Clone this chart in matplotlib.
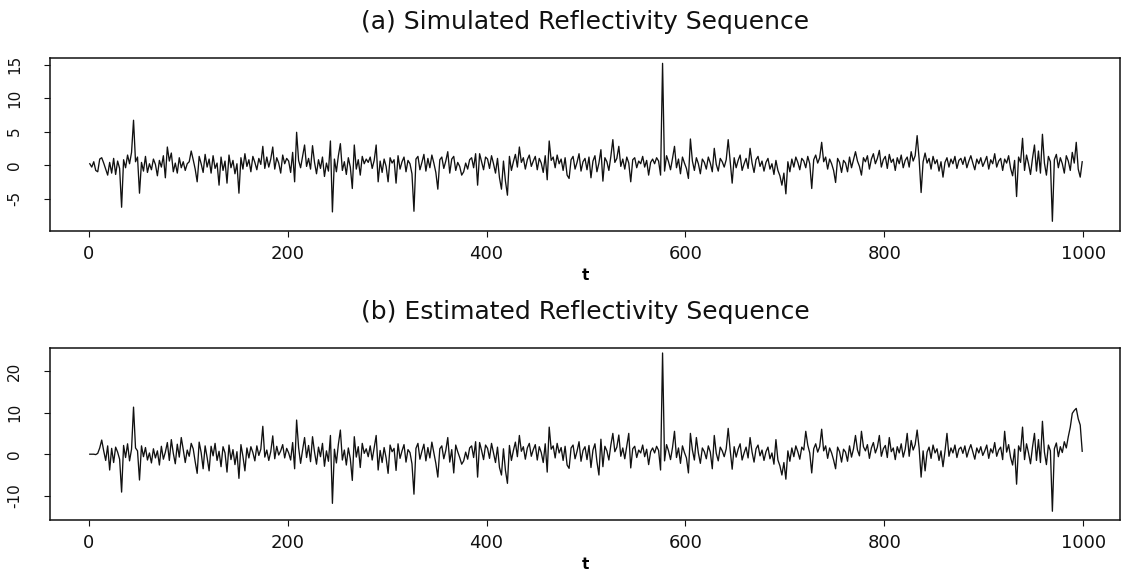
import numpy as np
import matplotlib
matplotlib.use("Agg")
import matplotlib.pyplot as plt

# time index (every other sample of t = 1..999)
t = np.arange(1, 1000, 2)

# (a) simulated reflectivity values
sim = [
    0.2, -0.3, 0.5, -0.8, -1.0, 0.9, 1.1, 0.3, -0.6, -1.5,
    0.4, -1.2, 1.0, -1.4, 0.6, -0.5, -6.3, 0.8, -0.4, 1.5,
    0.2, 1.9, 6.7, 0.5, 1.2, -4.2, 0.4, -0.9, 1.3, -1.1,
    0.2, -0.7, 0.9, 0.1, -1.6, 0.7, -0.3, 1.4, -1.9, 2.7,
    0.6, 1.8, -1.0, 0.3, -1.2, 1.1, -0.4, 0.5, -0.8, 0.2,
    0.5, 2.1, 0.8, -0.6, -2.5, 1.3, 0.2, -1.1, 1.6, -0.3,
    0.9, -1.2, 1.4, -0.5, 0.3, -3.0, 1.2, -0.8, 0.6, -2.7,
    1.5, -0.4, 0.7, -1.3, 0.2, -4.2, 1.1, -0.6, 1.7, -0.2,
    0.8, -1.0, 1.3, 0.4, -0.7, 1.0, 0.1, 2.8, -0.5, 1.2,
    -0.3, 0.9, 2.7, -0.6, 1.1, 0.3, -1.2, 1.5, 0.2, 1.0,
    0.6, -1.1, 1.9, -2.5, 4.9, 0.7, -0.4, 1.3, 3.0, -0.2,
    1.0, -0.6, 2.9, 0.4, -1.3, 0.8, -0.5, 1.2, -1.7, 0.3,
    -0.9, 3.6, -7.0, 0.9, -1.0, 1.4, 3.2, -0.8, 0.5, -1.4,
    1.1, -0.3, -3.5, 3.0, -0.6, 0.8, -1.5, 1.3, 0.2, 0.9,
    0.4, 1.2, -0.5, 0.7, 3.0, -2.5, 0.6, -1.1, 0.9, -0.2,
    -2.5, 1.1, 0.3, 0.8, -2.7, 1.4, -0.6, 0.5, 1.2, -1.0,
    0.7, 0.2, -1.3, -6.9, 0.9, 1.3, -0.7, 0.4, 1.6, -0.9,
    1.0, -0.4, 1.5, 0.3, -1.1, -3.6, 0.8, 1.2, -0.5, 0.6,
    2.0, -1.2, 0.9, 1.3, -0.8, 0.4, -0.2, -1.5, -1.0, 0.3,
    -0.6, 0.8, 1.1, -0.4, 1.7, -3.0, 1.7, 0.5, -0.7, 1.2,
    0.9, -0.5, 1.4, 0.2, -1.2, 1.0, -1.9, -3.6, 0.6, -2.4,
    -4.5, 1.3, -0.8, 0.5, 1.6, -0.3, 2.7, 0.4, 1.1, -0.6,
    0.8, 1.5, -0.2, 0.6, 1.3, -0.7, 1.0, 0.3, -1.1, 1.4,
    -2.2, 3.6, 0.7, 1.2, -0.4, 1.5, 0.2, 0.9, -0.8, 1.1,
    -1.5, -2.0, 0.8, 1.3, -0.6, 0.4, 1.7, -0.9, 0.5, 1.0,
    -0.7, 1.2, -1.9, 0.6, 1.4, -1.0, 0.3, 2.3, -2.4, 1.1,
    0.5, -0.8, 1.3, 3.8, 0.4, 1.0, 2.8, -0.2, 0.9, -0.6,
    1.2, 0.3, -2.5, 0.8, 1.1, -0.4, 0.6, 0.2, 1.3, -0.3,
    0.7, -1.5, 0.4, 0.9, 0.2, 1.1, 0.6, -1.5, 15.2, -0.9,
    1.4, 0.5, -0.7, 1.0, 2.8, -0.4, 0.9, -1.3, 1.2, 0.3,
    -0.5, -2.0, 3.9, 0.6, -0.8, 1.1, 0.2, -1.3, 0.9, 0.4,
    -0.6, 1.2, 0.3, -1.0, 2.5, 0.1, -0.9, 1.0, 0.5, -0.3,
    0.8, 3.8, 0.6, -2.7, 1.1, -0.4, 0.7, 1.5, -0.8, 0.2,
    1.0, -0.5, 2.5, 0.3, -1.1, 0.8, 1.3, -0.2, 0.6, -0.9,
    0.4, 1.0, -0.6, 0.2, -1.4, 0.7, -0.8, -1.6, -3.0, -1.2,
    -4.3, 0.5, -1.0, 0.9, -0.3, 1.2, 0.4, -0.7, 1.0, 0.6,
    -0.4, 1.3, 0.2, -3.5, 0.8, 1.5, 0.3, 1.1, 3.4, 0.5,
    1.2, -0.6, 0.9, 0.2, -0.8, -2.6, 1.0, 0.4, -1.1, 0.7,
    0.3, -1.0, 1.2, -0.4, 0.8, 2.0, 0.6, -0.2, -1.5, 1.1,
    0.5, 1.4, -0.6, 0.9, 1.7, 0.2, 1.0, 2.2, -0.3, 0.8,
    1.3, -0.5, 1.6, 0.4, 0.9, -0.8, 1.1, 0.2, 1.5, -0.4,
    0.7, 1.2, -0.3, 2.0, 0.6, 1.4, 4.4, 0.9, -4.1, 0.5,
    1.8, 0.3, 1.0, -0.6, 1.3, 0.2, 0.8, -0.9, 0.5, -1.8,
    0.4, 1.1, -0.3, 0.9, 0.2, 1.3, -0.5, 0.7, 1.0, 0.1,
    1.2, -0.4, 0.6, 1.4, 0.3, -0.7, 0.9, 0.2, 1.1, -0.2,
    0.5, 1.3, -0.6, 0.8, 0.2, 1.7, -0.3, 0.6, 1.0, -0.8,
    0.9, 0.3, 1.4, -0.5, -1.6, 0.7, -4.7, 1.2, 0.4, 4.0,
    -0.8, 1.5, 0.2, -1.4, 1.0, 3.0, -0.9, 2.1, -1.2, 4.6,
    0.3, -1.5, 1.3, 0.5, -8.4, 0.8, 1.6, -0.4, 1.1, 0.2,
    -1.2, 1.4, 0.6, -0.8, 1.9, 0.3, 3.4, -0.6, -1.8, 0.5,
]

# (b) estimated reflectivity values
est = [
    0.0, 0.0, 0.0, -0.1, 0.2, 1.5, 3.4, 0.8, -1.5, 2.0,
    -3.8, 1.4, -2.0, 1.7, 0.5, -1.2, -9.1, 2.1, -0.8, 2.5,
    -1.6, 1.2, 11.3, 1.5, 0.8, -6.2, 2.0, -0.6, 1.6, -1.4,
    0.3, -2.1, 1.3, -0.9, 0.8, -2.6, 1.9, -1.2, 0.5, 2.8,
    -1.5, 3.5, 0.2, -2.3, 2.4, -0.7, 4.0, 1.1, -2.0, 1.0,
    -0.5, 2.6, 1.3, -1.8, -4.6, 2.9, 0.4, -3.5, 2.0, -0.8,
    -4.0, 1.9, -0.4, 2.6, -1.5, 0.7, -3.0, 1.8, 0.3, -4.3,
    2.2, -1.3, 1.1, -2.5, 0.6, -5.8, 2.3, -0.5, -4.0, 1.5,
    -0.9, 1.8, 0.4, -1.6, 2.0, -0.3, 1.2, 6.7, -0.7, 1.0,
    -1.5, 0.6, 4.4, -1.1, 1.9, -0.2, 0.8, 2.3, -0.9, 1.4,
    0.3, -1.4, 2.8, -3.5, 8.2, 1.6, -2.2, 1.0, 4.0, -0.8,
    2.1, -1.8, 4.2, 0.5, -2.4, 1.7, -0.6, 2.6, -2.9, 0.8,
    -1.7, 4.5, -11.8, 1.2, -2.1, 2.4, 5.8, -1.4, 1.0, -2.6,
    1.5, -1.1, -6.3, 4.2, -0.7, 1.8, -3.2, 2.6, 0.2, 1.3,
    -0.6, 2.0, -1.4, 1.5, 4.5, -3.8, 0.9, -2.0, 1.6, -0.9,
    -4.6, 2.2, 0.6, 1.4, -3.9, 2.5, -1.0, 0.8, 2.3, -1.9,
    1.1, 0.4, -2.3, -9.6, 1.4, 2.6, -1.2, 0.7, 2.4, -1.6,
    1.6, -0.9, 2.9, 0.3, -2.2, -5.5, 1.3, 2.0, -1.1, 0.9,
    4.0, -1.9, 1.1, -4.5, 2.2, 0.6, -0.8, -2.4, -1.6, 0.5,
    -1.2, 1.5, 2.0, -0.8, 3.0, -5.5, 2.8, 0.9, -1.3, 2.2,
    1.4, -1.0, 2.6, 0.3, -2.0, 1.7, -3.2, -5.0, 1.3, -3.9,
    -7.0, 2.1, -1.5, 0.9, 2.9, -0.6, 4.5, 0.7, 1.8, -1.2,
    1.5, 2.6, -0.5, 1.1, 2.3, -1.4, 1.8, 0.4, -2.0, 2.5,
    -4.3, 6.5, 1.2, 2.0, -0.9, 2.6, 0.3, 1.6, -1.5, 1.9,
    -2.6, -3.4, 1.5, 2.2, -1.1, 0.7, 3.0, -1.7, 0.9, 1.8,
    -1.3, 2.1, -3.2, 1.0, 2.5, -1.8, -5.0, 3.6, -3.0, 1.9,
    0.8, -1.4, 2.2, 5.0, 0.6, 1.7, 4.6, -0.5, 1.5, -1.1,
    2.0, 5.0, -3.3, 1.3, 1.9, -0.8, 1.0, 0.3, 2.2, -0.6,
    1.2, -2.5, 0.6, 1.5, 0.3, 1.9, 0.9, -3.8, 24.3, -1.6,
    2.3, 0.8, -1.3, 1.6, 5.5, -0.8, 1.5, -2.2, 2.0, 0.4,
    -0.9, -4.5, 5.0, 1.0, -1.4, 4.0, 0.3, -2.2, 1.5, 0.6,
    -1.1, 2.0, 0.5, -3.5, 4.5, 0.2, -1.6, 1.7, 0.8, -0.6,
    1.3, 6.2, 1.0, -3.6, 1.8, -0.7, 1.2, 2.5, -1.4, 0.3,
    1.7, -0.9, 4.0, 0.5, -1.9, 1.3, 2.2, -0.4, 1.0, -1.5,
    0.6, 1.7, -1.1, 0.3, -2.4, 3.5, -1.4, -2.8, -5.0, -2.0,
    -6.0, 0.8, -1.7, 1.5, -0.6, 2.0, 0.6, -1.2, 1.7, 1.0,
    5.5, 2.2, 0.3, -4.5, 1.3, 2.5, 0.5, 1.8, 6.0, 0.8,
    2.0, -1.0, 1.5, 0.3, -1.4, -3.5, 1.7, 0.6, -1.9, 1.2,
    0.5, -1.7, 2.0, -0.7, 1.3, 4.5, 1.0, -0.4, 5.5, 1.8,
    0.8, 2.3, -1.0, 1.5, 2.8, 0.3, 1.7, 4.5, -0.5, 1.3,
    2.1, -0.8, 4.0, 0.6, 1.5, -1.3, 1.8, 0.3, 2.5, -0.7,
    1.2, 5.0, -0.5, 3.3, 1.0, 2.3, 5.8, 1.5, -5.5, 0.8,
    -4.0, 0.5, 1.7, -1.0, 2.2, 0.3, 1.3, -1.5, 0.8, -3.0,
    0.7, 5.0, -0.5, 1.5, 0.3, 2.2, -0.8, 1.2, 1.7, 0.2,
    2.0, -0.7, 1.0, 2.3, 0.5, -1.2, 1.5, 0.3, 1.8, -0.3,
    0.8, 2.2, -1.0, 1.3, 0.3, 2.8, -0.5, 1.0, 1.7, -1.3,
    5.5, 0.5, 2.3, -0.8, -2.6, 1.2, -7.2, 2.0, 0.7, 6.5,
    -1.3, 2.5, 0.3, -2.3, 1.7, 5.0, -1.5, 3.5, -2.0, 7.9,
    0.5, -2.5, 2.2, 0.8, -13.7, 1.3, 2.7, -0.6, 1.8, 0.4,
    3.0, 1.5, 4.2, 6.5, 9.8, 10.5, 11.0, 8.5, 7.0, 0.7,
]

titles = ["(a) Simulated Reflectivity Sequence", "(b) Estimated Reflectivity Sequence"]
xticks = [0, 200, 400, 600, 800, 1000]
yticks_a = [-5, 0, 5, 10, 15]
yticks_b = [-10, 0, 10, 20]

W, H = 1121, 571
fig = plt.figure(figsize=(W / 100, H / 100), dpi=100)
plt.rcParams['font.family'] = ['DejaVu Sans']

def frac_box(x0, y0, x1, y1):
    return [x0 / W, 1 - y1 / H, (x1 - x0) / W, (y1 - y0) / H]

axa = fig.add_axes(frac_box(50, 58, 1120, 231))
axb = fig.add_axes(frac_box(50, 348, 1120, 520))

for ax, y, yt, ylim, title, ty in [
    (axa, sim, yticks_a, (-9.85, 16.0), titles[0], 22),
    (axb, est, yticks_b, (-15.8, 25.5), titles[1], 312),
]:
    ax.plot(t, y, color="#111111", lw=0.95)
    ax.set_xlim(-39, 1037)
    ax.set_ylim(*ylim)
    ax.set_xticks(xticks)
    ax.set_xticklabels([str(v) for v in xticks], fontsize=13)
    ax.set_yticks(yt)
    ax.set_yticklabels([str(v) for v in yt], fontsize=11, rotation=90, va="center")
    ax.tick_params(axis="x", length=4, width=0.8, pad=6, colors="#111111")
    ax.tick_params(axis="y", length=4, width=0.8, pad=16, colors="#111111")
    for s in ax.spines.values():
        s.set_linewidth(1.1)
        s.set_color("#111111")
    ax.set_xlabel("t", fontsize=11, fontweight="bold", labelpad=4)
    fig.text(585 / W, 1 - ty / H, title, ha="center", va="center", fontsize=18, color="#111111")

fig.savefig("out.png", dpi=100)
